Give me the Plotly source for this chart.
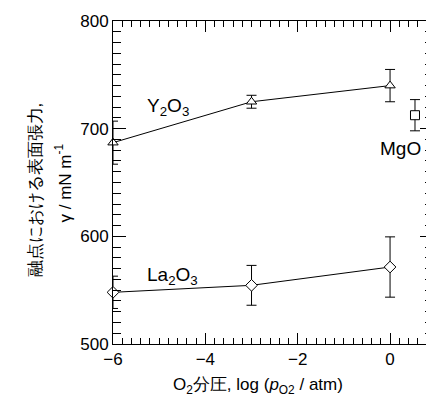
import plotly.graph_objects as go

# data
x_pts = [-6, -3, 0]
y2o3_vals = [687, 725, 740]
y2o3_err = [20, 6, 15]
la2o3_vals = [548, 554.5, 571.5]
la2o3_err = [15, 18.5, 28]
mgo_x = [0.54]
mgo_vals = [712.5]
mgo_err = [14.5]

FONT = "Arial"
X_RANGE = [-6, 0.93]
Y_RANGE = [500, 800]

fig = go.Figure()

def series(x, y, err, symbol, mode="lines+markers"):
    return go.Scatter(
        x=x, y=y, mode=mode,
        line=dict(color="black", width=1),
        marker=dict(symbol=symbol, size=9, color="white",
                    line=dict(color="black", width=1)),
        error_y=dict(type="data", array=err, color="black",
                     thickness=1, width=5),
        cliponaxis=False, showlegend=False,
    )

fig.add_trace(series(x_pts, y2o3_vals, y2o3_err, "triangle-up"))
fig.add_trace(series(x_pts, la2o3_vals, la2o3_err, "diamond"))
fig.add_trace(series(mgo_x, mgo_vals, mgo_err, "square", mode="markers"))

tickfont = dict(family=FONT, size=17, color="black")

fig.update_layout(
    width=426, height=401,
    margin=dict(l=105, r=1, t=13, b=65),
    plot_bgcolor="white",
    font=dict(family=FONT, color="black"),
    xaxis=dict(range=X_RANGE, tick0=0, dtick=2, ticks="inside", ticklen=11,
               tickwidth=1, tickcolor="black", showline=True,
               linecolor="black", mirror="ticks", tickfont=tickfont,
               minor=dict(ticks="inside", dtick=0.2, tick0=0, ticklen=6,
                          tickwidth=1, tickcolor="black")),
    yaxis=dict(range=Y_RANGE, tick0=500, dtick=100, ticks="inside", ticklen=13,
               tickwidth=1, tickcolor="black", showline=True,
               linecolor="black", mirror="ticks", tickfont=tickfont,
               minor=dict(ticks="inside", dtick=10, tick0=500, ticklen=8,
                          tickwidth=1, tickcolor="black")),
)

ann_font = dict(family=FONT, size=19, color="black")
fig.add_annotation(x=-4.81, y=719.7, text="Y<sub>2</sub>O<sub>3</sub>",
                   showarrow=False, font=ann_font)
fig.add_annotation(x=0.23, y=681.6, text="MgO", showarrow=False, font=ann_font)
fig.add_annotation(x=-4.72, y=562.8, text="La<sub>2</sub>O<sub>3</sub>",
                   showarrow=False, font=ann_font)

title_font = dict(family=FONT, size=17, color="black")
fig.add_annotation(xref="paper", yref="paper", x=0.453, y=-0.17,
                   text="O<sub>2</sub>分圧, log (<i>p</i><sub>O2</sub> / atm)",
                   showarrow=False, font=title_font)
fig.add_annotation(xref="paper", yref="paper", x=-0.278, y=0.477,
                   text="融点における表面張力,", textangle=-90,
                   showarrow=False, font=title_font)
fig.add_annotation(xref="paper", yref="paper", x=-0.197, y=0.5,
                   text="γ / mN m<sup>-1</sup>", textangle=-90,
                   showarrow=False, font=title_font)

fig.write_html("out.html")
